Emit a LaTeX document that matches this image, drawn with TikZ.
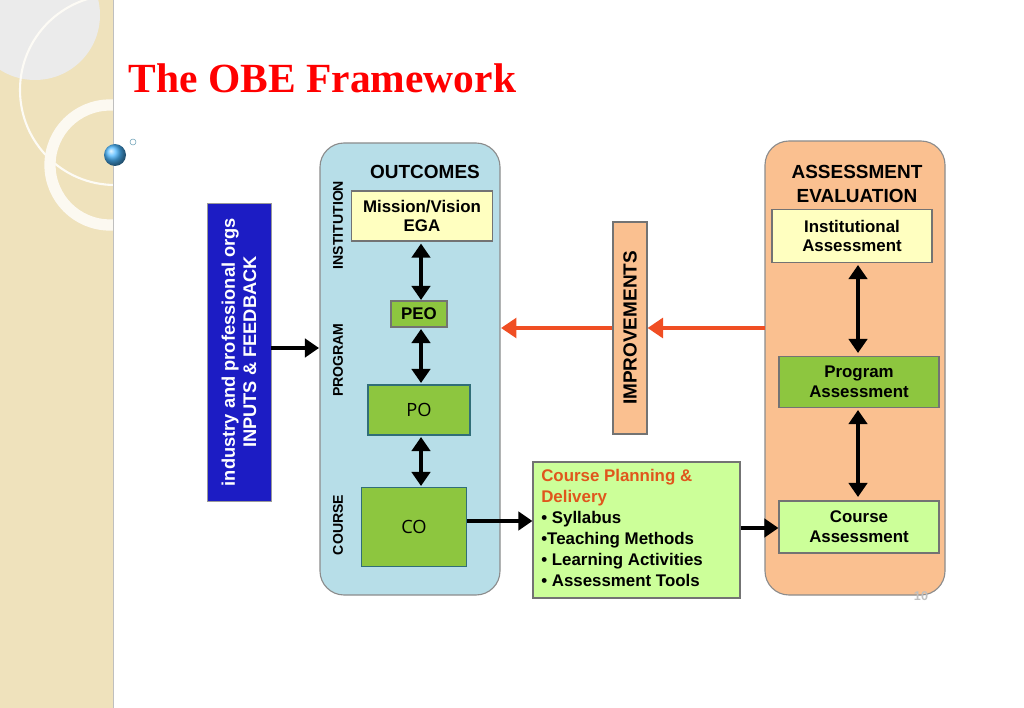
\documentclass[tikz,border=0pt]{standalone}
\usepackage{fontspec}
\setmainfont{Liberation Sans}
\newfontfamily\titlefont{Liberation Serif}
\newfontfamily\plainfont{Open Sans}
\usetikzlibrary{arrows.meta}
\definecolor{beige}{HTML}{EFE2BC}
\definecolor{outblue}{HTML}{B7DEE8}
\definecolor{peach}{HTML}{FAC090}
\definecolor{lyellow}{HTML}{FFFFC0}
\definecolor{mgreen}{HTML}{8DC63F}
\definecolor{lgreen}{HTML}{CCFF99}
\definecolor{dblue}{HTML}{1C1CC4}
\definecolor{redarr}{HTML}{F04E23}
\definecolor{orangetxt}{HTML}{E0561C}
\tikzset{
 px/.style={x=0.025cm,y=-0.025cm},
 box/.style={draw=black!55,line width=0.8pt,font=\bfseries\fontsize{12}{14}\selectfont,align=center,inner sep=0pt},
 bigbox/.style={draw=black!45,line width=0.8pt,rounded corners=0.6cm},
 arr/.style={line width=3pt,-{Triangle[length=10pt,width=13pt]}},
 darr/.style={line width=3pt,{Triangle[length=10pt,width=13pt]}-{Triangle[length=10pt,width=13pt]}},
 rarr/.style={line width=3pt,redarr,-{Triangle[length=11pt,width=14pt]}},
 side/.style={font=\bfseries\fontsize{10}{12}\selectfont,rotate=90},
}
\begin{document}
\begin{tikzpicture}[px]
\useasboundingbox (0,0) rectangle (1024,708);
% left decoration
\fill[beige] (0,0) rectangle (113,708);
\begin{scope}
\clip (0,0) rectangle (113,708);
\fill[black!8] (35,15) circle (65);
\draw[white!85!beige,line width=1.5pt] (115,90) circle (95);
\draw[white!80!beige,line width=8pt] (110,165) circle (60);
\end{scope}
\draw[black!25] (113,0) -- (113,708);
\shade[ball color=cyan!60!blue!70] (115,155) circle (11);
\draw[cyan!40!gray] (133,142) circle (3);
% title
\node[anchor=west,font=\titlefont\bfseries\fontsize{29.5}{34}\selectfont,text=red] (title) at (124,78) {The OBE Framework};
% input box
\node[draw=black!40,fill=dblue,minimum width=64*0.025cm,minimum height=298*0.025cm,inner sep=0pt] (input) at (239,352) {};
\node[rotate=90,text=white,font=\bfseries\fontsize{13}{15}\selectfont,align=center] (inputtxt) at (239,352) {industry and professional orgs\\INPUTS \& FEEDBACK};
% outcomes
\draw[bigbox,fill=outblue] (320,143) rectangle (500,595);
\node[font=\bfseries\fontsize{13.5}{15}\selectfont] (outc) at (425,172) {OUTCOMES};
\node[side] (inst) at (338,225) {INSTITUTION};
\node[side] (prog) at (338,360) {PROGRAM};
\node[side] (crs) at (338,525) {COURSE};
\node[box,fill=lyellow,minimum width=141*0.025cm,minimum height=50*0.025cm] (mission) at (422,216) {Mission/Vision\\EGA};
\node[box,fill=mgreen,minimum width=56*0.025cm,minimum height=26*0.025cm] (peo) at (419,314) {PEO};
\node[draw={rgb,255:red,49;green,110;blue,120},line width=1.2pt,fill=mgreen,minimum width=102*0.025cm,minimum height=50*0.025cm,font=\plainfont\fontsize{13}{15}\selectfont] (po) at (419,410) {PO};
\node[draw={rgb,255:red,49;green,110;blue,120},line width=1.2pt,fill=mgreen,minimum width=105*0.025cm,minimum height=79*0.025cm,font=\plainfont\fontsize{13}{15}\selectfont] (co) at (414,527) {CO};
\draw[darr] (mission.south -| 421,0) ++(0,2) coordinate (a1) -- (421,300) coordinate (a2);
\draw[darr] (421,329) coordinate (b1) -- (421,383) coordinate (b2);
\draw[darr] (421,437) coordinate (c1) -- (421,486) coordinate (c2);
% input arrow
\draw[arr] (input.east |- 0,348) -- (319,348);
% course planning
\node[box,fill=lgreen,minimum width=207*0.025cm,minimum height=136*0.025cm] (plan) at (636.5,530) {};
\node[anchor=north west,align=left,font=\bfseries\fontsize{12}{15}\selectfont,inner sep=0pt] (plantxt) at (541,469) {\textcolor{orangetxt}{Course Planning \&}\\\textcolor{orangetxt}{Delivery}\\ \textbullet\ Syllabus\\\textbullet Teaching Methods\\\textbullet\ Learning Activities\\\textbullet\ Assessment Tools};
\draw[arr] (co.east |- 0,521) -- (plan.west |- 0,521);
% assessment
\draw[bigbox,fill=peach] (765,141) rectangle (945,595);
\node[font=\bfseries\fontsize{13.5}{17}\selectfont,align=center] (assess) at (857,184) {ASSESSMENT\\EVALUATION};
\node[box,fill=lyellow,minimum width=160*0.025cm,minimum height=53*0.025cm] (ia) at (852,236) {Institutional\\Assessment};
\node[box,fill=mgreen,minimum width=160*0.025cm,minimum height=51*0.025cm] (pa) at (859,382) {Program\\Assessment};
\node[box,fill=lgreen,minimum width=160*0.025cm,minimum height=52*0.025cm] (ca) at (859,527) {Course\\Assessment};
\draw[darr] (858,265) -- (858,353);
\draw[darr] (858,410) -- (858,497);
\draw[arr] (plan.east |- 0,528) -- (ca.west |- 0,528);
% improvements
\node[box,fill=peach,minimum width=34*0.025cm,minimum height=212*0.025cm] (imp) at (630,328) {};
\node[rotate=90,font=\bfseries\fontsize{13.5}{15}\selectfont] (imptxt) at (630,328) {IMPROVEMENTS};
\draw[rarr] (765,328) -- (imp.east);
\draw[rarr] (imp.west) -- (501,328);
\node[text=black!25,font=\bfseries\fontsize{9}{10}\selectfont] (pg) at (921,596) {10};
\end{tikzpicture}
\end{document}
